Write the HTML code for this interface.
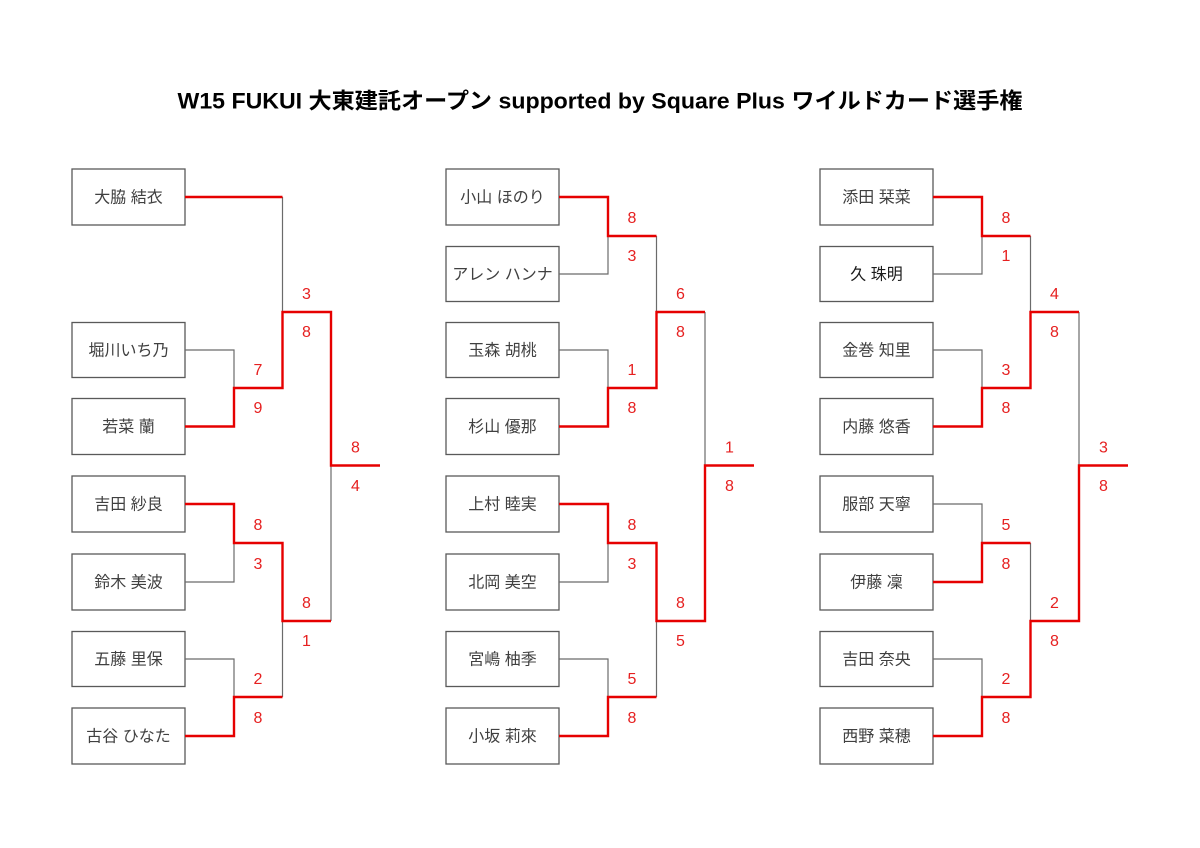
<!DOCTYPE html>
<html>
<head>
<meta charset="utf-8">
<style>
  html,body{margin:0;padding:0;background:#fff;}
  body{width:1200px;height:848px;overflow:hidden;}
  svg{display:block;}
  .title{font-family:"Liberation Sans","Noto Sans CJK JP",sans-serif;font-weight:bold;font-size:22px;fill:#000;}
  .nm{font-family:"Liberation Sans","Noto Sans CJK JP",sans-serif;font-size:16px;fill:#404040;}
  .sc{font-family:"Liberation Sans","Noto Sans CJK JP",sans-serif;font-size:16px;fill:#e62020;}
  .box{fill:#fff;stroke:#595959;stroke-width:1.3;}
  .g{fill:none;stroke:#6b6b6b;stroke-width:1.2;}
  .r{fill:none;stroke:#e60000;stroke-width:2.4;stroke-linejoin:miter;}
</style>
</head>
<body>
<svg width="1200" height="848" viewBox="0 0 1200 848" xmlns="http://www.w3.org/2000/svg">
  <text class="title" x="600" y="108.5" text-anchor="middle" textLength="845" lengthAdjust="spacingAndGlyphs">W15 FUKUI 大東建託オープン supported by Square Plus ワイルドカード選手権</text>

  <!-- ===== Column 1 ===== -->
  <g>
    <rect class="box" x="72" y="169" width="113" height="56"/>
    <rect class="box" x="72" y="322.5" width="113" height="55"/>
    <rect class="box" x="72" y="398.5" width="113" height="56"/>
    <rect class="box" x="72" y="476" width="113" height="56"/>
    <rect class="box" x="72" y="554" width="113" height="56"/>
    <rect class="box" x="72" y="631.5" width="113" height="55"/>
    <rect class="box" x="72" y="708" width="113" height="56"/>

    <text class="nm" x="128.5" y="202.5" text-anchor="middle">大脇 結衣</text>
    <text class="nm" x="128.5" y="355.5" text-anchor="middle">堀川いち乃</text>
    <text class="nm" x="128.5" y="432" text-anchor="middle">若菜 蘭</text>
    <text class="nm" x="128.5" y="509.5" text-anchor="middle">吉田 紗良</text>
    <text class="nm" x="128.5" y="587.5" text-anchor="middle">鈴木 美波</text>
    <text class="nm" x="128.5" y="664.5" text-anchor="middle">五藤 里保</text>
    <text class="nm" x="128.5" y="741.5" text-anchor="middle">古谷 ひなた</text>

    <path class="g" d="M185 350 H234 V388"/>
    <path class="g" d="M185 582 H234 V543"/>
    <path class="g" d="M185 659 H234 V697"/>
    <path class="g" d="M282.5 197 V312"/>
    <path class="g" d="M282.5 697 V621"/>
    <path class="g" d="M331 621 V465.5"/>

    <path class="r" d="M185 197 H282.5"/>
    <path class="r" d="M185 426.5 H234 V388 H282.5 V312 H331 V465.5 H380"/>
    <path class="r" d="M185 504 H234 V543 H282.5 V621 H331"/>
    <path class="r" d="M185 736 H234 V697 H282.5"/>

    <text class="sc" x="258" y="375" text-anchor="middle">7</text>
    <text class="sc" x="258" y="413" text-anchor="middle">9</text>
    <text class="sc" x="258" y="530" text-anchor="middle">8</text>
    <text class="sc" x="258" y="569" text-anchor="middle">3</text>
    <text class="sc" x="258" y="684" text-anchor="middle">2</text>
    <text class="sc" x="258" y="723" text-anchor="middle">8</text>
    <text class="sc" x="306.5" y="299" text-anchor="middle">3</text>
    <text class="sc" x="306.5" y="337" text-anchor="middle">8</text>
    <text class="sc" x="306.5" y="608" text-anchor="middle">8</text>
    <text class="sc" x="306.5" y="646" text-anchor="middle">1</text>
    <text class="sc" x="355.5" y="452.5" text-anchor="middle">8</text>
    <text class="sc" x="355.5" y="491" text-anchor="middle">4</text>
  </g>

  <!-- ===== Column 2 ===== -->
  <g>
    <rect class="box" x="446" y="169" width="113" height="56"/>
    <rect class="box" x="446" y="246.5" width="113" height="55"/>
    <rect class="box" x="446" y="322.5" width="113" height="55"/>
    <rect class="box" x="446" y="398.5" width="113" height="56"/>
    <rect class="box" x="446" y="476" width="113" height="56"/>
    <rect class="box" x="446" y="554" width="113" height="56"/>
    <rect class="box" x="446" y="631.5" width="113" height="55"/>
    <rect class="box" x="446" y="708" width="113" height="56"/>

    <text class="nm" x="502.5" y="202.5" text-anchor="middle">小山 ほのり</text>
    <text class="nm" x="502.5" y="279.5" text-anchor="middle">アレン ハンナ</text>
    <text class="nm" x="502.5" y="355.5" text-anchor="middle">玉森 胡桃</text>
    <text class="nm" x="502.5" y="432" text-anchor="middle">杉山 優那</text>
    <text class="nm" x="502.5" y="509.5" text-anchor="middle">上村 睦実</text>
    <text class="nm" x="502.5" y="587.5" text-anchor="middle">北岡 美空</text>
    <text class="nm" x="502.5" y="664.5" text-anchor="middle">宮嶋 柚季</text>
    <text class="nm" x="502.5" y="741.5" text-anchor="middle">小坂 莉來</text>

    <path class="g" d="M559 274 H608 V236"/>
    <path class="g" d="M559 350 H608 V388"/>
    <path class="g" d="M559 582 H608 V543"/>
    <path class="g" d="M559 659 H608 V697"/>
    <path class="g" d="M656.5 236 V312"/>
    <path class="g" d="M656.5 697 V621"/>
    <path class="g" d="M705 312 V465.5"/>

    <path class="r" d="M559 197 H608 V236 H656.5"/>
    <path class="r" d="M559 426.5 H608 V388 H656.5 V312 H705"/>
    <path class="r" d="M559 504 H608 V543 H656.5 V621 H705 V465.5 H754"/>
    <path class="r" d="M559 736 H608 V697 H656.5"/>

    <text class="sc" x="632" y="223" text-anchor="middle">8</text>
    <text class="sc" x="632" y="261" text-anchor="middle">3</text>
    <text class="sc" x="632" y="375" text-anchor="middle">1</text>
    <text class="sc" x="632" y="413" text-anchor="middle">8</text>
    <text class="sc" x="632" y="530" text-anchor="middle">8</text>
    <text class="sc" x="632" y="569" text-anchor="middle">3</text>
    <text class="sc" x="632" y="684" text-anchor="middle">5</text>
    <text class="sc" x="632" y="723" text-anchor="middle">8</text>
    <text class="sc" x="680.5" y="299" text-anchor="middle">6</text>
    <text class="sc" x="680.5" y="337" text-anchor="middle">8</text>
    <text class="sc" x="680.5" y="608" text-anchor="middle">8</text>
    <text class="sc" x="680.5" y="646" text-anchor="middle">5</text>
    <text class="sc" x="729.5" y="452.5" text-anchor="middle">1</text>
    <text class="sc" x="729.5" y="491" text-anchor="middle">8</text>
  </g>

  <!-- ===== Column 3 ===== -->
  <g>
    <rect class="box" x="820" y="169" width="113" height="56"/>
    <rect class="box" x="820" y="246.5" width="113" height="55"/>
    <rect class="box" x="820" y="322.5" width="113" height="55"/>
    <rect class="box" x="820" y="398.5" width="113" height="56"/>
    <rect class="box" x="820" y="476" width="113" height="56"/>
    <rect class="box" x="820" y="554" width="113" height="56"/>
    <rect class="box" x="820" y="631.5" width="113" height="55"/>
    <rect class="box" x="820" y="708" width="113" height="56"/>

    <text class="nm" x="876.5" y="202.5" text-anchor="middle">添田 栞菜</text>
    <text class="nm" x="876.5" y="279.5" text-anchor="middle" style="fill:#1a1a1a">久 珠明</text>
    <text class="nm" x="876.5" y="355.5" text-anchor="middle">金巻 知里</text>
    <text class="nm" x="876.5" y="432" text-anchor="middle">内藤 悠香</text>
    <text class="nm" x="876.5" y="509.5" text-anchor="middle">服部 天寧</text>
    <text class="nm" x="876.5" y="587.5" text-anchor="middle">伊藤 凜</text>
    <text class="nm" x="876.5" y="664.5" text-anchor="middle">吉田 奈央</text>
    <text class="nm" x="876.5" y="741.5" text-anchor="middle">西野 菜穂</text>

    <path class="g" d="M933 274 H982 V236"/>
    <path class="g" d="M933 350 H982 V388"/>
    <path class="g" d="M933 504 H982 V543"/>
    <path class="g" d="M933 659 H982 V697"/>
    <path class="g" d="M1030.5 236 V312"/>
    <path class="g" d="M1030.5 543 V621"/>
    <path class="g" d="M1079 312 V465.5"/>

    <path class="r" d="M933 197 H982 V236 H1030.5"/>
    <path class="r" d="M933 426.5 H982 V388 H1030.5 V312 H1079"/>
    <path class="r" d="M933 582 H982 V543 H1030.5"/>
    <path class="r" d="M933 736 H982 V697 H1030.5 V621 H1079 V465.5 H1128"/>

    <text class="sc" x="1006" y="223" text-anchor="middle">8</text>
    <text class="sc" x="1006" y="261" text-anchor="middle">1</text>
    <text class="sc" x="1006" y="375" text-anchor="middle">3</text>
    <text class="sc" x="1006" y="413" text-anchor="middle">8</text>
    <text class="sc" x="1006" y="530" text-anchor="middle">5</text>
    <text class="sc" x="1006" y="569" text-anchor="middle">8</text>
    <text class="sc" x="1006" y="684" text-anchor="middle">2</text>
    <text class="sc" x="1006" y="723" text-anchor="middle">8</text>
    <text class="sc" x="1054.5" y="299" text-anchor="middle">4</text>
    <text class="sc" x="1054.5" y="337" text-anchor="middle">8</text>
    <text class="sc" x="1054.5" y="608" text-anchor="middle">2</text>
    <text class="sc" x="1054.5" y="646" text-anchor="middle">8</text>
    <text class="sc" x="1103.5" y="452.5" text-anchor="middle">3</text>
    <text class="sc" x="1103.5" y="491" text-anchor="middle">8</text>
  </g>
</svg>
</body>
</html>
